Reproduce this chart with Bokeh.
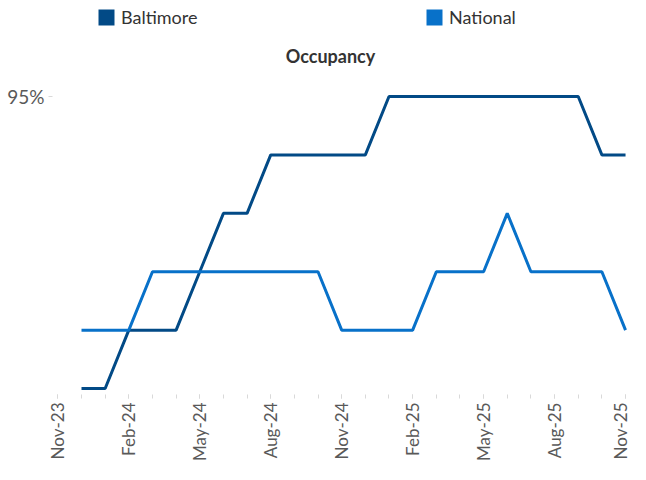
import math
from bokeh.plotting import figure
from bokeh.models import (Range1d, FixedTicker, PrintfTickFormatter, Legend, LegendItem,
                          ColumnDataSource, Label)
from bokeh.embed import file_html
from bokeh.resources import INLINE

# ---- data ----
months = ["Nov-23", "Dec-23", "Jan-24", "Feb-24", "Mar-24", "Apr-24", "May-24", "Jun-24",
          "Jul-24", "Aug-24", "Sep-24", "Oct-24", "Nov-24", "Dec-24", "Jan-25", "Feb-25",
          "Mar-25", "Apr-25", "May-25", "Jun-25", "Jul-25", "Aug-25", "Sep-25", "Oct-25", "Nov-25"]
nan = float("nan")
baltimore = [nan, 92.5, 92.5, 93.0, 93.0, 93.0, 93.5, 94.0, 94.0, 94.5, 94.5, 94.5, 94.5,
             94.5, 95.0, 95.0, 95.0, 95.0, 95.0, 95.0, 95.0, 95.0, 95.0, 94.5, 94.5]
national = [nan, 93.0, 93.0, 93.0, 93.5, 93.5, 93.5, 93.5, 93.5, 93.5, 93.5, 93.5, 93.0,
            93.0, 93.0, 93.0, 93.5, 93.5, 93.5, 94.0, 93.5, 93.5, 93.5, 93.5, 93.0]
labelled_months = ["Nov-23", "Feb-24", "May-24", "Aug-24", "Nov-24", "Feb-25", "May-25",
                   "Aug-25", "Nov-25"]
y_ticks = [95]
chart_title = "Occupancy"

C_BAL = "#024A86"
C_NAT = "#0871C9"
FONT = "Lato"
GRAY = "#595959"

x = list(range(len(months)))
src = ColumnDataSource(dict(x=x, bal=baltimore, nat=national))

p = figure(width=630, height=464, output_backend="svg", toolbar_location=None,
           x_range=Range1d(-0.226, 24.21), y_range=Range1d(92.449, 95.822),
           min_border_left=52, min_border_right=0, min_border_top=0, min_border_bottom=0)
p.outline_line_color = None
p.xgrid.visible = False
p.ygrid.visible = False

r_bal = p.line("x", "bal", source=src, line_color=C_BAL, line_width=3)
r_nat = p.line("x", "nat", source=src, line_color=C_NAT, line_width=3)

# legend swatches (no visible data)
q_bal = p.quad(left=[nan], right=[nan], top=[nan], bottom=[nan], fill_color=C_BAL, line_color=None)
q_nat = p.quad(left=[nan], right=[nan], top=[nan], bottom=[nan], fill_color=C_NAT, line_color=None)

# x axis
xa = p.xaxis[0]
major = [months.index(m) for m in labelled_months]
xa.ticker = FixedTicker(ticks=major, minor_ticks=x)
xa.major_label_overrides = {i: months[i] for i in major}
xa.major_label_orientation = math.pi / 2
xa.axis_line_color = None
xa.major_tick_line_color = "#D9D9D9"
xa.minor_tick_line_color = "#D9D9D9"
xa.major_tick_out = 4
xa.major_tick_in = 0
xa.minor_tick_out = 4
xa.minor_tick_in = 0
xa.major_label_text_font = FONT
xa.major_label_text_font_size = "17px"
xa.major_label_text_color = GRAY
xa.major_label_standoff = 4

# y axis
ya = p.yaxis[0]
ya.ticker = FixedTicker(ticks=y_ticks)
ya.formatter = PrintfTickFormatter(format="%d%%")
ya.axis_line_color = None
ya.major_tick_line_color = "#D9D9D9"
ya.major_tick_out = 4
ya.major_tick_in = 0
ya.minor_tick_line_color = None
ya.major_label_text_font = FONT
ya.major_label_text_font_size = "19px"
ya.major_label_text_color = GRAY
ya.major_label_standoff = 4

# title (screen units, relative to the frame)
p.add_layout(Label(x=278, y=339, x_units="screen", y_units="screen", text=chart_title,
                   text_align="center", text_baseline="middle", text_font=FONT,
                   text_font_size="18px", text_font_style="bold", text_color="#333333"))

common = dict(orientation="horizontal", label_text_font=FONT, label_text_font_size="18px",
              label_text_color="#333333", glyph_width=20, glyph_height=20, label_standoff=5,
              border_line_color=None, background_fill_alpha=0, padding=0, margin=0)
leg1 = Legend(items=[LegendItem(label="Baltimore", renderers=[q_bal])], location=(44, 366), **common)
leg2 = Legend(items=[LegendItem(label="National", renderers=[q_nat])], location=(372, 366), **common)
p.add_layout(leg1, "center")
p.add_layout(leg2, "center")

open("out.html", "w").write(file_html(p, INLINE))
